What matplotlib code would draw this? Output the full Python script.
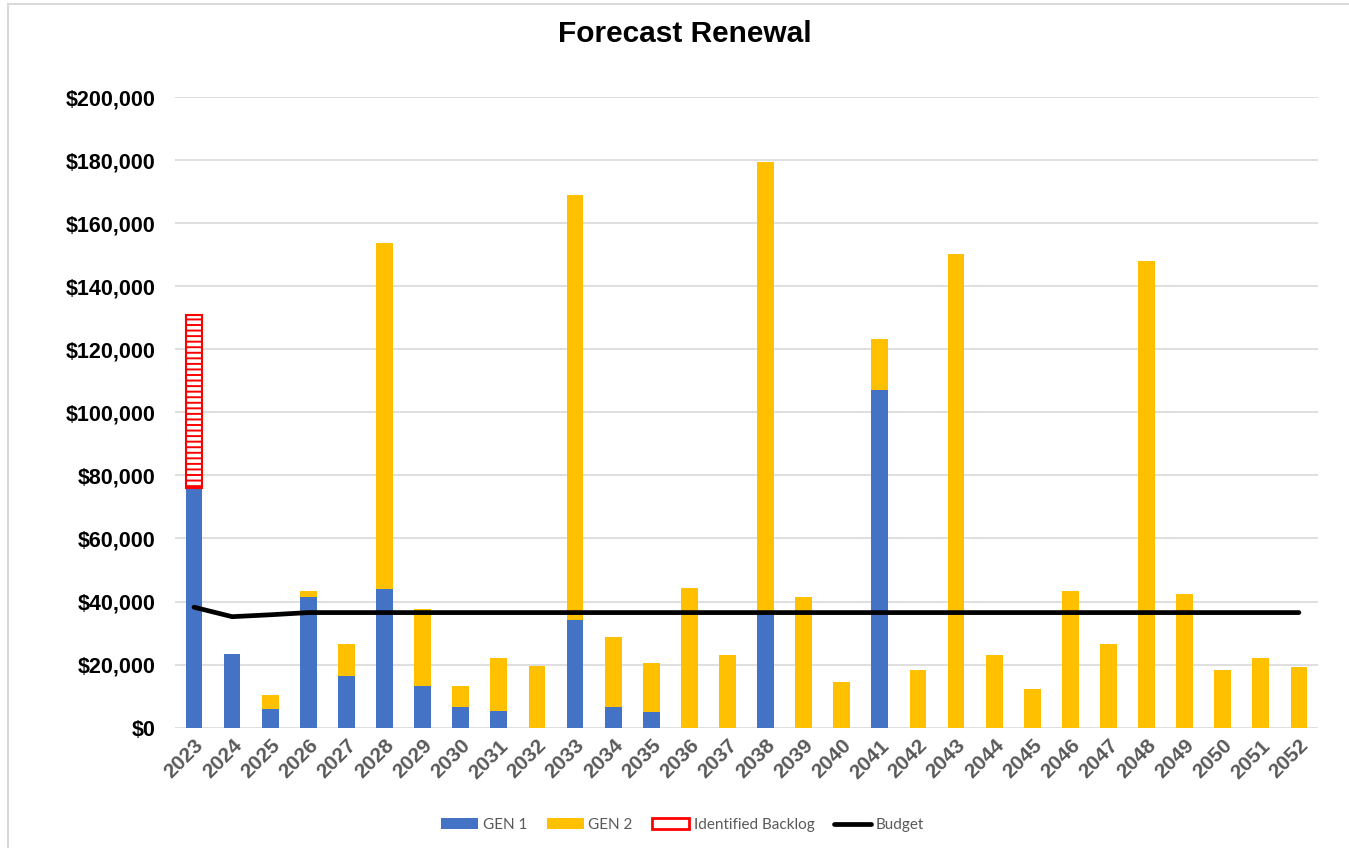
import numpy as np
import matplotlib
matplotlib.use('Agg')
import matplotlib.pyplot as plt
from matplotlib.ticker import FuncFormatter
from matplotlib.patches import Rectangle, Patch
from matplotlib.lines import Line2D

#### data (dollars) ####
years = list(range(2023, 2053))
gen1 = [76100, 23500, 6000, 41500, 16500, 44100, 13100, 6700, 5400, 0,
        34100, 6600, 4900, 0, 0, 37000, 0, 0, 107000, 0,
        0, 0, 0, 0, 0, 0, 0, 0, 0, 0]
gen2 = [0, 0, 4500, 1900, 10100, 109600, 24600, 6600, 16800, 19400,
        134900, 22100, 15700, 44300, 22900, 142300, 41300, 14400, 16200, 18200,
        150200, 23200, 12200, 43300, 26500, 147900, 42400, 18200, 22000, 19300]
backlog = [54800] + [0]*29
budget = [38200, 35200, 35800, 36500] + [36500]*26

plt.rcParams['hatch.color'] = 'red'
plt.rcParams['hatch.linewidth'] = 1.4

fig = plt.figure(figsize=(13.49, 8.48), dpi=100)
ax = fig.add_axes([0.1297, 0.1419, 0.977-0.1297, 0.8856-0.1419])

x = np.arange(len(years))
w = 0.44
gen1 = np.array(gen1); gen2 = np.array(gen2); backlog = np.array(backlog)
ax.bar(x, gen1, w, color='#4472C4', zorder=2)
ax.bar(x, gen2, w, bottom=gen1, color='#FFC000', zorder=2)
# only years that actually have a backlog, otherwise the red edge shows on every bar
has_bl = backlog > 0
ax.bar(x[has_bl], backlog[has_bl], w, bottom=(gen1+gen2)[has_bl], facecolor='white',
       edgecolor='red', hatch='---', linewidth=1.5, zorder=2)
ax.plot(x, budget, color='black', lw=3.4, solid_capstyle='round',
        solid_joinstyle='round', zorder=3)

ax.set_xlim(-0.5, len(years)-0.5)
ax.set_ylim(0, 200000)
ax.set_yticks(np.arange(0, 200001, 20000))
ax.yaxis.set_major_formatter(FuncFormatter(lambda v, p: '${:,.0f}'.format(v)))
ax.grid(axis='y', color='#D9D9D9', lw=1.2, zorder=0)
ax.set_axisbelow(True)
for s in ax.spines.values():
    s.set_visible(False)
ax.tick_params(length=0)
ax.tick_params(axis='y', pad=14)
for lab in ax.get_yticklabels():
    lab.set_fontfamily('Liberation Sans'); lab.set_fontweight('bold'); lab.set_fontsize(15.5)
ax.set_xticks(x)
ax.set_xticklabels([str(y) for y in years], rotation=45, ha='right',
                   rotation_mode='anchor', fontsize=15, fontweight='bold',
                   color='#595959', family='Liberation Sans')
ax.tick_params(axis='x', pad=6)

fig.text(0.508, 0.96, 'Forecast Renewal', ha='center', va='center',
         fontsize=21.5, fontweight='bold', family='Liberation Sans')

handles = [Patch(facecolor='#4472C4'), Patch(facecolor='#FFC000'),
           Patch(facecolor='white', edgecolor='red', lw=2),
           Line2D([], [], color='black', lw=3.4, solid_capstyle='round')]
labels = ['GEN 1', 'GEN 2', 'Identified Backlog', 'Budget']
leg = fig.legend(handles, labels, loc='center', bbox_to_anchor=(0.506, 0.027), ncol=4,
                 frameon=False, prop={'family': 'Lato', 'size': 11}, handlelength=2.4,
                 handleheight=0.7, handletextpad=0.3, columnspacing=1.3)
for t in leg.get_texts():
    t.set_color('#595959')

# chart frame
fig.patches.append(Rectangle((8/1349, -0.1), 1.2, 1-4/848+0.1, transform=fig.transFigure,
                             fill=False, edgecolor='#D9D9D9', lw=1.5))

fig.savefig('out.png', dpi=100)
